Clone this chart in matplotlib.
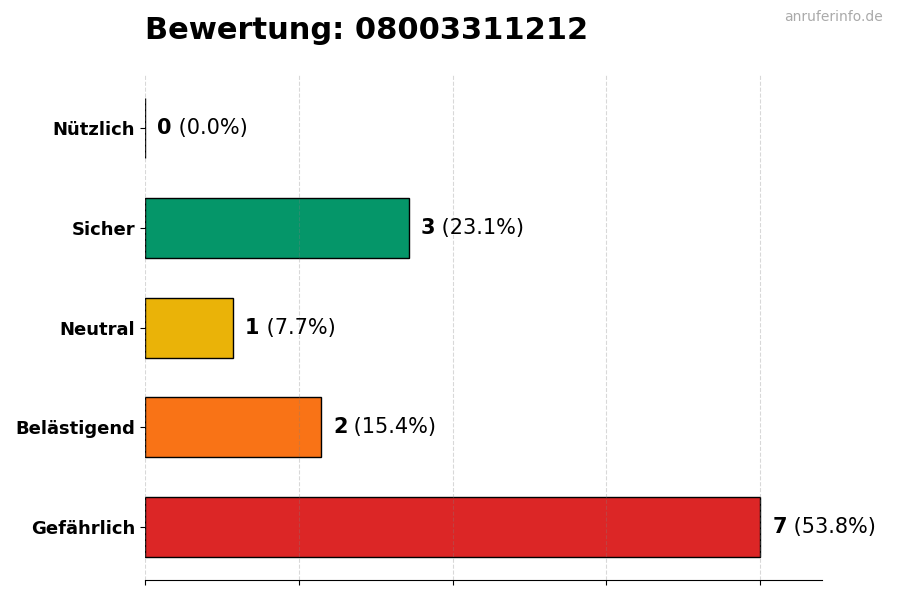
import matplotlib
matplotlib.use("Agg")
import matplotlib.pyplot as plt

# data
categories = ["Gefährlich", "Belästigend", "Neutral", "Sicher", "Nützlich"]
counts = [7, 2, 1, 3, 0]
colors = ["#DC2626", "#F97316", "#EAB308", "#059669", "#2563EB"]
title = "Bewertung: 08003311212"
total = sum(counts)

fig = plt.figure(figsize=(9, 6), dpi=100)
ax = fig.add_axes([0.161, 0.033, 0.752, 0.842])

ax.barh(categories, counts, height=0.6, color=colors, edgecolor="black", linewidth=1)

xmax = max(counts)
ax.set_xlim(0, xmax * 1.1)
ax.set_xticks([xmax * i / 4 for i in range(5)])
ax.set_xticklabels([])
ax.grid(axis="x", linestyle="--", color="gray", alpha=0.3, linewidth=0.8)
ax.set_axisbelow(False)

for s in ["top", "right", "left"]:
    ax.spines[s].set_visible(False)

for lbl in ax.get_yticklabels():
    lbl.set_fontweight("bold")
    lbl.set_fontsize(13)

for i, c in enumerate(counts):
    pct = c / total * 100
    t = ax.text(c + xmax * 0.02, i, str(c), fontsize=15, fontweight="bold",
                va="center", ha="left")
    ax.annotate(f" ({pct:.1f}%)", xy=(1, 0.5), xycoords=t, fontsize=15,
                va="center", ha="left")

fig.text(0.161, 0.925, title, fontsize=22, fontweight="bold", ha="left", va="bottom")
fig.text(0.981, 0.972, "anruferinfo.de", fontsize=10, color="#aaaaaa", ha="right", va="center")

fig.savefig("out.png", dpi=100)
